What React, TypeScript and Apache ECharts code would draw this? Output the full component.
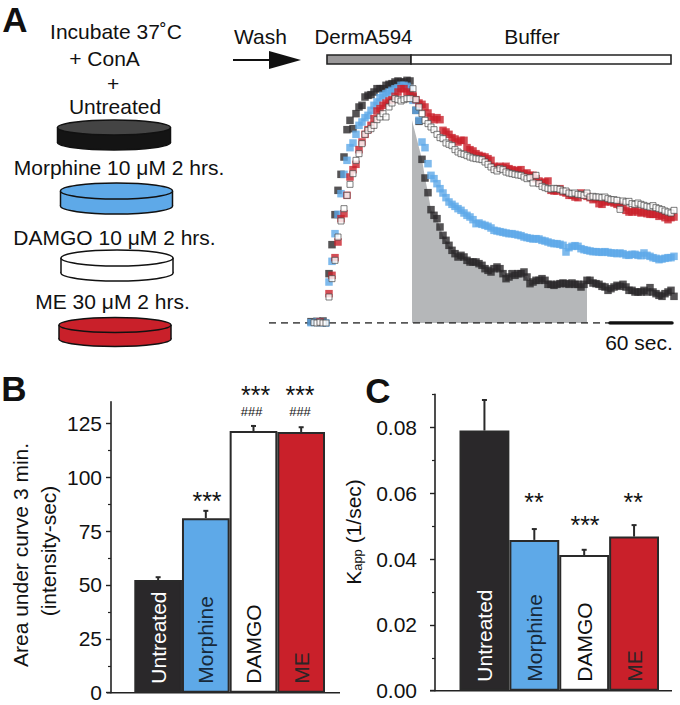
import React, { useEffect, useRef } from "react";
import * as echarts from "echarts";

const FONT = "Liberation Sans";
const BLACK = "#2a282a";
const BLUE = "#5ea9e8";
const RED = "#c9202a";
const GREY = "#b5b7b9";

const baselineTimes = [11, 14, 17, 20, 23, 26];
const baselineBlack = [4, -3, 5, 2, 6, -2];
const baselineBlue = [1, -2, 3, 1, 2, 0];
const baselineRed = [-5, -6, -4, 3, -4, -2];
const baselineWhite = [-1, 1, 0, 2, 0, 0];

const sampleTimes = [
  29, 32, 35, 38, 41, 44, 47, 50, 53, 56, 59, 62, 65, 68, 71, 74, 77, 80, 83, 86, 89, 92, 95, 98, 101, 104, 107, 110,
  113, 116, 119, 122, 125, 128, 131, 134, 137, 140, 143, 146, 149, 152, 155, 158, 161, 164, 167, 170, 173, 176, 179,
  182, 185, 188, 191, 194, 197, 200, 203, 206, 209, 212, 215, 218, 221, 224, 227, 230, 233, 236, 239, 242, 245, 248,
  251, 254, 257, 260, 263, 266, 269, 272, 275, 278, 281, 284, 287, 290, 293, 296, 299, 302, 305, 308, 311, 314, 317,
  320, 323, 326, 329, 332, 335, 338, 341, 344, 347, 350, 353, 356, 359, 362, 365, 368, 371, 374,
];

const blackValues = [
  148, 235, 325, 398, 446, 498, 580, 608, 583, 628, 648, 653, 678, 683, 685, 693, 703, 703, 703, 713, 716, 718, 723, 726, 723, 723, 728, 726,
  678, 638,
  605, 491, 435, 391, 340, 323, 313, 288, 263, 248,
  233, 218, 208, 198, 203, 198, 188, 183, 183, 183,
  178, 173, 163, 158, 153, 163, 168, 163, 148, 133,
  138, 148, 143, 148, 148, 153, 138, 118, 123, 128,
  128, 133, 128, 116, 116, 113, 116, 118, 120, 118,
  116, 120, 116, 116, 108, 116, 128, 128, 120, 118,
  116, 110, 108, 98, 103, 108, 113, 110, 116, 108,
  98, 98, 93, 93, 93, 98, 93, 106, 93, 88,
  83, 80, 88, 93, 98, 80,
];
const blueValues = [
  123, 185, 268, 326, 388, 446, 488, 526, 540, 566, 593, 603, 616, 623, 638, 653, 663, 676, 683, 688, 693, 698, 703, 706, 713, 713, 710, 703,
  668, 638,
  608, 543, 526, 478, 443, 433, 418, 403, 390, 376,
  363, 356, 350, 343, 338, 330, 323, 318, 310, 298,
  300, 296, 293, 290, 285, 278, 276, 274, 272, 270,
  268, 268, 266, 264, 262, 258, 256, 254, 252, 253,
  252, 248, 246, 243, 240, 238, 238, 236, 233, 213,
  226, 230, 232, 230, 223, 220, 218, 216, 214, 214,
  213, 212, 214, 212, 210, 210, 208, 210, 208, 204,
  203, 206, 206, 203, 202, 210, 203, 200, 196, 194,
  190, 192, 194, 196, 196, 200,
];
const redValues = [
  88, 143, 196, 243, 313, 328, 383, 438, 460, 476, 520, 543, 566, 580, 593, 613, 636, 643, 653, 660, 666, 670, 680, 693, 703, 703, 693, 688,
  683, 670,
  660, 656, 648, 630, 618, 610, 616, 610, 578, 573,
  566, 556, 552, 543, 548, 548, 526, 520, 516, 508,
  503, 500, 498, 493, 488, 470, 466, 470, 466, 470,
  463, 460, 456, 458, 460, 448, 450, 443, 443, 433,
  426, 420, 423, 426, 398, 396, 396, 403, 393, 390,
  383, 383, 378, 376, 390, 383, 380, 376, 370, 373,
  358, 356, 363, 366, 363, 360, 356, 353, 348, 338,
  333, 333, 338, 333, 330, 333, 328, 326, 326, 326,
  320, 323, 316, 310, 316, 318,
];
const whiteValues = [
  78, 133, 188, 258, 306, 343, 383, 416, 448, 488, 508, 538, 566, 578, 583, 593, 610, 618, 628, 618, 648, 660, 673, 670, 666, 670, 673, 673,
  703, 670,
  648, 628, 608, 598, 588, 580, 566, 556, 553, 540,
  536, 532, 520, 513, 508, 506, 502, 498, 495, 493,
  492, 490, 483, 476, 468, 460, 456, 463, 460, 453,
  450, 448, 446, 444, 443, 438, 433, 436, 420, 443,
  418, 410, 406, 403, 402, 404, 403, 401, 396, 396,
  390, 388, 390, 386, 385, 383, 390, 378, 380, 378,
  378, 376, 378, 373, 370, 370, 368, 341, 366, 363,
  365, 358, 356, 360, 356, 353, 350, 348, 352, 346,
  343, 340, 336, 333, 330, 338,
];

const aucApex = [112, 608];
const dashedLine = [[-31, 0], [310, 0]];
const scaleBar = [[310, 0], [372, 0]];

const categories = ["Untreated", "Morphine", "DAMGO", "ME"];
const barColors = [BLACK, BLUE, "#ffffff", RED];
const labelColors = ["#ffffff", "#17293b", "#111111", "#2c2426"];

const areaValues = [52.3, 81, 121.4, 121];
const areaErrorTops = [53.6, 84.4, 123.8, 123.2];
const areaMajorTicks = [0, 25, 50, 75, 100, 125];
const areaMinorTicks = [12.5, 37.5, 62.5, 87.5, 112.5];

const kappValues = [0.079, 0.0458, 0.0412, 0.0468];
const kappErrorTops = [0.0883, 0.0491, 0.0428, 0.0503];
const kappMajorTicks = [0, 0.02, 0.04, 0.06, 0.08];
const kappMinorTicks = [0.01, 0.03, 0.05, 0.07, 0.09];

const text = (t: string, x: number, y: number, extra: any = {}) => ({
  type: "text",
  x,
  y,
  rotation: extra.rotation || 0,
  silent: true,
  style: {
    text: t,
    fill: extra.fill || "#111",
    font: `${extra.weight || "normal"} ${extra.size || 21}px "${FONT}"`,
    textAlign: "center",
    textVerticalAlign: "middle",
    align: "center",
    verticalAlign: "middle",
    ...(extra.lineHeight ? { lineHeight: extra.lineHeight } : {}),
  },
});

const dish = (x1: number, x2: number, topY: number, botY: number, ry: number, body: string, top: string) => {
  const cx = (x1 + x2) / 2;
  const rx = (x2 - x1) / 2;
  const stroke = { stroke: "#111", lineWidth: 1.5 };
  return [
    { type: "ellipse", shape: { cx, cy: botY, rx, ry }, style: { fill: body, ...stroke } },
    { type: "rect", shape: { x: x1, y: topY, width: x2 - x1, height: botY - topY }, style: { fill: body } },
    { type: "line", shape: { x1, y1: topY, x2: x1, y2: botY }, style: stroke },
    { type: "line", shape: { x1: x2, y1: topY, x2, y2: botY }, style: stroke },
    { type: "ellipse", shape: { cx, cy: topY, rx, ry }, style: { fill: top, ...stroke } },
  ];
};

const errorBars = (xAxisIndex: number, yAxisIndex: number, values: number[], tops: number[]) => ({
  type: "custom",
  xAxisIndex,
  yAxisIndex,
  z: 1,
  data: values.map((v, i) => [i, v, tops[i]]),
  renderItem: (_p: any, api: any) => {
    const a = api.coord([api.value(0), api.value(1)]);
    const b = api.coord([api.value(0), api.value(2)]);
    const style = { stroke: "#2a2a2a", lineWidth: 2 };
    return {
      type: "group",
      children: [
        { type: "line", shape: { x1: a[0], y1: a[1], x2: b[0], y2: b[1] }, style },
        { type: "line", shape: { x1: a[0] - 2.5, y1: b[1], x2: a[0] + 2.5, y2: b[1] }, style },
      ],
    };
  },
});

const bars = (xAxisIndex: number, yAxisIndex: number, values: number[]) => ({
  type: "bar",
  xAxisIndex,
  yAxisIndex,
  barWidth: "100%",
  z: 2,
  data: values.map((value, i) => ({
    value,
    itemStyle: { color: barColors[i], borderColor: "#2a2a2a", borderWidth: 2 },
    label: { color: labelColors[i] },
  })),
  label: {
    show: true,
    formatter: "{b}",
    rotate: 90,
    position: "insideBottom",
    align: "left",
    verticalAlign: "middle",
    distance: 9,
    fontSize: 21,
    fontFamily: FONT,
  },
});

const pts = (times: number[], values: number[]) => times.map((t, i) => [t, values[i]]);

const scatter = (base: number[], values: number[], color: string, z: number, border?: string) => ({
  type: "scatter",
  xAxisIndex: 0,
  yAxisIndex: 0,
  z,
  symbol: "rect",
  symbolSize: border ? 6 : 7.5,
  itemStyle: { color, borderColor: border || color, borderWidth: border ? 0.9 : 0 },
  data: [...pts(baselineTimes, base), ...pts(sampleTimes, values)],
});

const yAxisCommon = { type: "value", min: 0, position: "left" };
const axisLine = { show: true, lineStyle: { color: "#222", width: 1.6 } };
const hiddenX = { type: "category", data: categories, axisLine: { show: false }, axisTick: { show: false }, axisLabel: { show: false } };

const option: any = {
  animation: false,
  textStyle: { fontFamily: FONT },
  grid: [
    { left: 260, top: 73, width: 420, height: 250 },
    { left: 134.3, top: 401.8, width: 190.7, height: 290.9 },
    { left: 459.5, top: 394.4, width: 199.5, height: 296.3 },
  ],
  xAxis: [
    { type: "value", gridIndex: 0, min: -40, max: 380, show: false },
    { ...hiddenX, gridIndex: 1 },
    { ...hiddenX, gridIndex: 2 },
  ],
  yAxis: [
    { type: "value", gridIndex: 0, min: 0, max: 750, show: false },
    {
      ...yAxisCommon, gridIndex: 1, max: 135, offset: 23.3, splitLine: { show: false }, axisLine,
      axisTick: { show: true, length: 5, customValues: areaMajorTicks, lineStyle: { color: "#222", width: 1.4 } },
      axisLabel: { show: true, customValues: areaMajorTicks, margin: 9, fontSize: 21, fontFamily: FONT, color: "#111" },
    },
    {
      ...yAxisCommon, gridIndex: 1, max: 135, offset: 23.3, splitLine: { show: false }, axisLine: { show: false },
      axisTick: { show: true, length: 3, customValues: areaMinorTicks, lineStyle: { color: "#222", width: 1.2 } },
      axisLabel: { show: false },
    },
    {
      ...yAxisCommon, gridIndex: 2, max: 0.09, offset: 24.5, splitLine: { show: false }, axisLine,
      axisTick: { show: true, length: 5, customValues: kappMajorTicks, lineStyle: { color: "#222", width: 1.4 } },
      axisLabel: {
        show: true, customValues: kappMajorTicks, margin: 18, fontSize: 21, fontFamily: FONT, color: "#111",
        formatter: (v: number) => v.toFixed(2),
      },
    },
    {
      ...yAxisCommon, gridIndex: 2, max: 0.09, offset: 24.5, splitLine: { show: false }, axisLine: { show: false },
      axisTick: { show: true, length: 3, customValues: kappMinorTicks, lineStyle: { color: "#222", width: 1.2 } },
      axisLabel: { show: false },
    },
  ],
  series: [
    {
      type: "line",
      xAxisIndex: 0,
      yAxisIndex: 0,
      z: 1,
      showSymbol: false,
      lineStyle: { width: 0 },
      areaStyle: { color: GREY, opacity: 1 },
      data: [aucApex, ...pts(sampleTimes.slice(31, 87), blackValues.slice(31, 87))],
    },
    {
      type: "line", xAxisIndex: 0, yAxisIndex: 0, z: 1, showSymbol: false,
      lineStyle: { color: "#222", width: 1.6, type: [7, 5] }, data: dashedLine,
    },
    {
      type: "line", xAxisIndex: 0, yAxisIndex: 0, z: 1, showSymbol: false,
      lineStyle: { color: "#111", width: 3.5, cap: "round" }, data: scaleBar,
    },
    scatter(baselineBlack, blackValues, BLACK, 3),
    scatter(baselineBlue, blueValues, BLUE, 4),
    scatter(baselineRed, redValues, RED, 5),
    scatter(baselineWhite, whiteValues, "#ffffff", 6, "#4a4a4a"),
    bars(1, 1, areaValues),
    errorBars(1, 1, areaValues, areaErrorTops),
    bars(2, 3, kappValues),
    errorBars(2, 3, kappValues, kappErrorTops),
  ],
  graphic: [
    text("A", 15, 19, { size: 35, weight: "bold" }),
    text("B", 14, 388.5, { size: 35, weight: "bold" }),
    text("C", 378, 390, { size: 35, weight: "bold" }),
    text("Incubate 37˚C", 116, 31),
    text("+ ConA", 104.5, 58),
    text("+", 113, 83),
    text("Untreated", 115, 106),
    text("Morphine 10 μM 2 hrs.", 119, 167),
    text("DAMGO 10 μM 2 hrs.", 114.5, 237),
    text("ME 30 μM 2 hrs.", 112.5, 301),
    text("Wash", 260.5, 36),
    text("DermA594", 363.5, 36, { size: 20.5 }),
    text("Buffer", 532, 36),
    text("60 sec.", 639, 342),
    { type: "line", shape: { x1: 233, y1: 60, x2: 272, y2: 60 }, style: { stroke: "#111", lineWidth: 2 } },
    { type: "polygon", shape: { points: [[269, 51], [301, 60], [269, 69]] }, style: { fill: "#111" } },
    { type: "rect", shape: { x: 327, y: 55, width: 84, height: 9 }, style: { fill: "#9a9899", stroke: "#222", lineWidth: 1.6 } },
    { type: "rect", shape: { x: 411, y: 55, width: 260, height: 9 }, style: { fill: "#fff", stroke: "#222", lineWidth: 1.6 } },
    ...dish(57.5, 170.5, 127.5, 142.5, 7.5, "#141414", "#444444"),
    ...dish(60.5, 172.5, 191, 206, 8, BLUE, BLUE),
    ...dish(61, 173, 258, 273, 8, "#ffffff", "#ffffff"),
    ...dish(59, 171, 325, 339, 7.5, RED, RED),
    { type: "line", shape: { x1: 107, y1: 692.7, x2: 340, y2: 692.7 }, style: { stroke: "#222", lineWidth: 1.6 } },
    { type: "line", shape: { x1: 430, y1: 690.7, x2: 672, y2: 690.7 }, style: { stroke: "#222", lineWidth: 1.6 } },
    text("Area under curve 3 min.", 20, 555, { rotation: Math.PI / 2 }),
    text("(intensity-sec)", 48, 551, { rotation: Math.PI / 2 }),
    {
      type: "text",
      x: 353,
      y: 532,
      rotation: Math.PI / 2,
      style: {
        text: "{k|K}{s|app}{k| (1/sec)}",
        align: "center",
        verticalAlign: "middle",
        rich: {
          k: { fontFamily: FONT, fontSize: 21, fill: "#111" },
          s: { fontFamily: FONT, fontSize: 13, fill: "#111", verticalAlign: "bottom" },
        },
      },
    },
    text("***", 207, 501, { size: 25, lineHeight: 13 }),
    text("***", 255.7, 395, { size: 25, lineHeight: 13 }),
    text("***", 300, 395, { size: 25, lineHeight: 13 }),
    text("###", 251.7, 411, { size: 13, lineHeight: 13 }),
    text("###", 300, 411, { size: 13, lineHeight: 13 }),
    text("**", 534, 501.5, { size: 25, lineHeight: 13 }),
    text("***", 585, 525, { size: 25, lineHeight: 13 }),
    text("**", 633.3, 501.5, { size: 25, lineHeight: 13 }),
  ],
};

export default function App() {
  const ref = useRef<HTMLDivElement>(null);
  useEffect(() => {
    const chart = echarts.init(ref.current!, undefined, { renderer: "svg" });
    chart.setOption(option);
    return () => chart.dispose();
  }, []);
  return <div ref={ref} style={{ position: "absolute", left: 0, top: 0, width: 680, height: 705 }} />;
}
